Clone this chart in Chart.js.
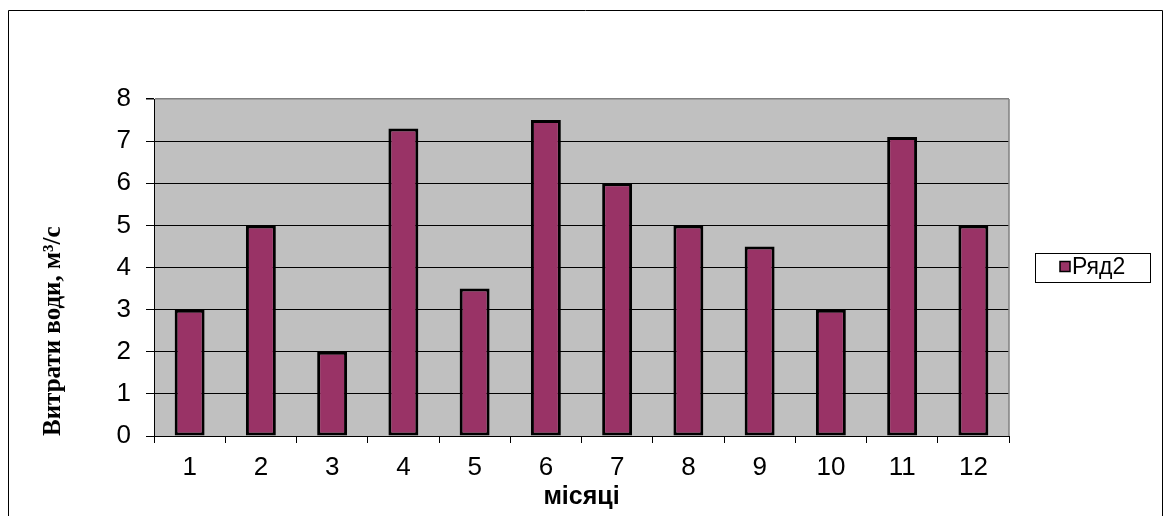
<!DOCTYPE html>
<html>
<head>
<meta charset="utf-8">
<script src="https://cdn.jsdelivr.net/npm/chart.js@4/dist/chart.umd.min.js"></script>
<style>
  html, body { margin: 0; padding: 0; background: #fff; }
  #wrap { width: 1168px; height: 516px; position: relative; }
</style>
</head>
<body>
<div id="wrap"><canvas id="c" width="1168" height="516"></canvas></div>
<script>
const categories = ['1','2','3','4','5','6','7','8','9','10','11','12'];
const seriesName = 'Ряд2';
const seriesValues = [3, 5, 2, 7.3, 3.5, 7.5, 6, 5, 4.5, 3, 7.1, 5];
const yTitle = 'Витрати води, м³/с';
const xTitle = 'місяці';

const BAR = '#993366';
const PLOT_BG = '#C0C0C0';
const GRAY = '#808080';

const decor = {
  id: 'decor',
  beforeDraw(chart) {
    const {ctx, chartArea: a} = chart;
    ctx.save();
    ctx.fillStyle = '#fff';
    ctx.fillRect(0, 0, chart.width, chart.height);
    ctx.fillStyle = PLOT_BG;
    ctx.fillRect(a.left, a.top, a.right - a.left, a.bottom - a.top);
    // outer frame
    ctx.strokeStyle = '#000';
    ctx.lineWidth = 1;
    ctx.beginPath();
    ctx.moveTo(8.5, 600);
    ctx.lineTo(8.5, 10.5);
    ctx.lineTo(1162.5, 10.5);
    ctx.lineTo(1162.5, 600);
    ctx.stroke();
    ctx.restore();
  },
  afterDraw(chart) {
    const {ctx, chartArea: a} = chart;
    ctx.save();
    // right plot border
    ctx.strokeStyle = GRAY;
    ctx.lineWidth = 1.5;
    ctx.beginPath();
    ctx.moveTo(a.right, a.top);
    ctx.lineTo(a.right, a.bottom);
    ctx.stroke();
    // legend
    const ds = chart.data.datasets[0];
    ctx.strokeStyle = '#000';
    ctx.lineWidth = 1;
    ctx.strokeRect(1035.5, 253.5, 115, 29);
    ctx.fillStyle = ds.backgroundColor;
    ctx.fillRect(1060, 261.5, 10, 10);
    ctx.lineWidth = 1.5;
    ctx.strokeRect(1060, 261.5, 10, 10);
    ctx.fillStyle = '#000';
    ctx.font = '23px "Liberation Sans", Arial, sans-serif';
    ctx.textBaseline = 'middle';
    ctx.textAlign = 'left';
    ctx.fillText(ds.label, 1072, 268);
    ctx.restore();
  }
};

new Chart(document.getElementById('c'), {
  type: 'bar',
  data: {
    labels: categories,
    datasets: [{
      label: seriesName,
      data: seriesValues,
      backgroundColor: BAR,
      borderColor: '#000',
      borderWidth: 3,
      borderSkipped: false,
      barPercentage: 0.42,
      categoryPercentage: 1.0
    }]
  },
  options: {
    responsive: false,
    animation: false,
    devicePixelRatio: 1,
    layout: { padding: { left: 0, top: 99, right: 159, bottom: 0 } },
    plugins: {
      legend: { display: false },
      tooltip: { enabled: false }
    },
    scales: {
      x: {
        offset: true,
        grid: { offset: true, drawOnChartArea: false, drawTicks: true, tickLength: 7, color: '#000', tickColor: '#000' },
        border: { display: true, color: '#000', width: 1 },
        ticks: { color: '#000', padding: 9, maxRotation: 0, font: { family: '"Liberation Sans", Arial, sans-serif', size: 26 } },
        title: { display: true, text: xTitle, color: '#000', padding: { top: 0, bottom: 4 },
                 font: { family: '"Liberation Sans", Arial, sans-serif', size: 25, weight: 'bold', lineHeight: 1.2 } },
        afterFit(scale) { scale.height = 80; }
      },
      y: {
        min: 0, max: 8,
        ticks: { stepSize: 1, color: '#000', padding: 15, font: { family: '"Liberation Sans", Arial, sans-serif', size: 26 } },
        grid: {
          color: (c) => (c.tick && c.tick.value === 8) ? GRAY : '#000',
          lineWidth: (c) => (c.tick && c.tick.value === 8) ? 1.5 : 1,
          tickColor: '#000', tickLength: 8
        },
        border: { display: true, color: '#000', width: 1 },
        title: { display: true, text: yTitle, color: '#000', align: 'start', padding: { top: 39, bottom: 0 },
                 font: { family: '"Liberation Serif", "Times New Roman", serif', size: 25, weight: 'bold', lineHeight: 1.2 } },
        afterFit(scale) { scale.width = 154; }
      }
    }
  },
  plugins: [decor]
});
</script>
</body>
</html>
